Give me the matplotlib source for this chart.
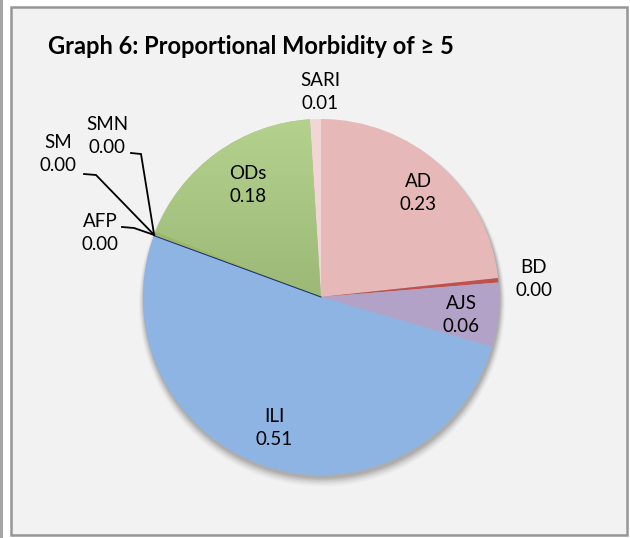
import matplotlib
matplotlib.use("Agg")
import matplotlib.pyplot as plt
import numpy as np
from matplotlib.patches import Rectangle, Circle

categories = ["AD", "BD", "AJS", "ILI", "AFP", "SM", "SMN", "ODs", "SARI"]
values = [0.233, 0.004, 0.058, 0.511, 0.001, 0.001, 0.002, 0.180, 0.010]
colors = ["#e6b9b8", "#c0504d", "#b3a2c7", "#8eb4e3", "#8eb4e3", "#9bbb59", "#9bbb59", "#a9c585", "#f2d6d5"]

W, H = 630, 538
fig = plt.figure(figsize=(W / 100, H / 100), dpi=100)
fig.patch.set_facecolor("white")
ax = fig.add_axes([0, 0, 1, 1])
ax.set_xlim(0, W)
ax.set_ylim(0, H)
ax.set_aspect("equal")
ax.axis("off")

FONT = "Lato"

def Y(y):
    return H - y

# frame
ax.add_patch(Rectangle((0, 0), 3, H, facecolor="#a6a6a6", edgecolor="none"))
ax.add_patch(Rectangle((11, Y(535)), 616, 528, facecolor="#f2f2f2",
                       edgecolor="#969696", linewidth=1.8))

cx, cy, r = 321, Y(297), 178

# shadow
for i, a in enumerate(np.linspace(0.12, 0.03, 6)):
    ax.add_patch(Circle((cx + 1, cy - 3 - i * 0.7), r + 0.5 + i * 0.9,
                        facecolor="#404040", edgecolor="none", alpha=a, zorder=1))

wedges, _ = ax.pie(values, colors=colors, startangle=90, counterclock=False,
                   center=(cx, cy), radius=r, frame=False,
                   wedgeprops=dict(linewidth=0, zorder=2))
ax.set_xlim(0, W)
ax.set_ylim(0, H)
ax.set_aspect("equal")
ax.axis("off")

# gradient on ODs wedge
ods = wedges[categories.index("ODs")]
grad = np.linspace(0, 1, 256).reshape(-1, 1)
top = np.array([0xb5, 0xd1, 0x8e]) / 255
bot = np.array([0x93, 0xaf, 0x6d]) / 255
img = top + (bot - top) * grad[..., None]
im = ax.imshow(img, extent=(cx - r, cx, cy - r * 0.4, cy + r), origin="upper",
               zorder=2.5, aspect="auto")
im.set_clip_path(ods)
ax.set_xlim(0, W)
ax.set_ylim(0, H)

# thin dark line between ILI and ODs boundary
ang = np.deg2rad(90 - 360 * sum(values[:4]))
ax.plot([cx, cx + r * np.cos(ang)], [cy, cy + r * np.sin(ang)],
        color="#1f3864", lw=0.8, zorder=3)

def lab(i):
    return f"{categories[i]}\n{values[i]:.2f}"

fs = 13.5
inside = {"AD": (418, 193), "ODs": (248, 185), "ILI": (274, 428), "AJS": (461, 315)}
outside = {"BD": (534, 279), "SARI": (320, 92), "SMN": (107, 136), "SM": (58, 154), "AFP": (100, 233)}
for name, (x, y) in {**inside, **outside}.items():
    ax.text(x, Y(y), lab(categories.index(name)), ha="center", va="center",
            fontsize=fs, family=FONT, linespacing=1.45, zorder=5)

# leader lines
tip = (cx + r * np.cos(np.deg2rad(159.6)), cy + r * np.sin(np.deg2rad(159.6)))
for pts in [[(131, 153), (141, 154)], [(84, 174), (96, 175)], [(122, 227), (134, 228)]]:
    xs = [p[0] for p in pts] + [tip[0]]
    ys = [Y(p[1]) for p in pts] + [tip[1]]
    ax.plot(xs, ys, color="black", lw=1.3, zorder=4, solid_joinstyle="miter")

ax.text(48, Y(47), "Graph 6: Proportional Morbidity of \u2265 5", ha="left", va="center",
        fontsize=17, fontweight="bold", family=FONT, zorder=5)

fig.savefig("out.png", dpi=100, facecolor="white")
